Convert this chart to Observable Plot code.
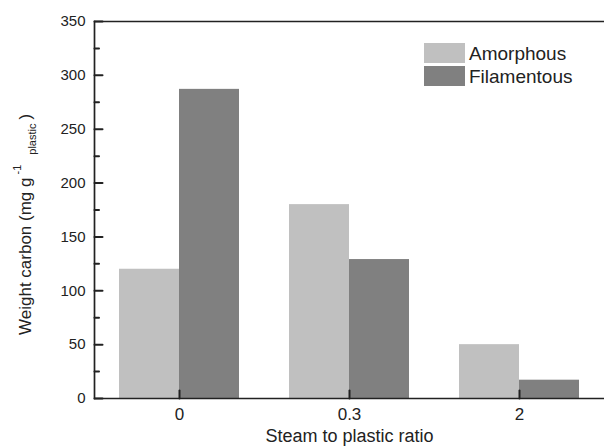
<!DOCTYPE html>
<html>
<head>
<meta charset="utf-8">
<script src="https://cdn.jsdelivr.net/npm/d3@7"></script>
<script src="https://cdn.jsdelivr.net/npm/@observablehq/plot@0.6"></script>
<style>
  html, body { margin: 0; padding: 0; background: #fff; overflow: hidden; }
</style>
</head>
<body>
<div id="chart"></div>
<script>
const ratios = ["0", "0.3", "2"];
const types = ["Amorphous", "Filamentous"];
const amorphous = [120, 180, 50];
const filamentous = [287, 129, 17];
const yMajorTicks = [0, 50, 100, 150, 200, 250, 300, 350];
const yMinorTicks = [25, 75, 125, 175, 225, 275, 325];
const colors = ["#c0c0c0", "#808080"];
const xTitle = "Steam to plastic ratio";

const data = ratios.flatMap((r, i) => [
  {ratio: r, type: types[0], value: amorphous[i]},
  {ratio: r, type: types[1], value: filamentous[i]}
]);

const font = "'Liberation Sans', Arial, sans-serif";
const ink = "#222";
const line = {draw(context, l) { context.moveTo(0, 0); context.lineTo(0, -l); }};

const plot = Plot.plot({
  width: 605,
  height: 448,
  marginLeft: 93,
  marginRight: 0,
  marginTop: 21,
  marginBottom: 50,
  style: {fontFamily: font},
  fx: {domain: ratios, padding: 0, label: null},
  x: {domain: types, paddingInner: 0, paddingOuter: 0.41, axis: null},
  y: {domain: [0, 350], axis: null},
  color: {domain: types, range: colors},
  marks: [
    Plot.barY(data, {fx: "ratio", x: "type", y: "value", fill: "type"}),
    Plot.ruleY([0, 350], {stroke: ink, strokeWidth: 1.7}),
    Plot.frame({anchor: "left", facetAnchor: "left", stroke: ink, strokeWidth: 1.7}),
    Plot.vector(yMajorTicks, {y: (d) => d, frameAnchor: "left", facetAnchor: "left", rotate: 90, length: 8, anchor: "start", shape: line, stroke: ink, strokeWidth: 2}),
    Plot.vector(yMinorTicks, {y: (d) => d, frameAnchor: "left", facetAnchor: "left", rotate: 90, length: 4.5, anchor: "start", shape: line, stroke: ink, strokeWidth: 2}),
    Plot.vector(ratios, {fx: (d) => d, frameAnchor: "bottom", rotate: 0, length: 8, anchor: "start", shape: line, stroke: ink, strokeWidth: 2}),
    Plot.axisY({ticks: yMajorTicks, tickSize: 0, tickPadding: 9, fontSize: 15, fill: ink, label: null}),
    Plot.axisFx({anchor: "bottom", tickSize: 0, tickPadding: 9, fontSize: 17, fill: ink, label: null}),
    Plot.axisFx({anchor: "bottom", tickSize: 0, tickFormat: () => "", label: xTitle, labelAnchor: "center", labelOffset: 43, fontSize: 18, fill: ink})
  ]
});

document.getElementById("chart").appendChild(plot);

// y-axis title with superscript / subscript
const svg = d3.select(plot);
const yt = svg.append("text")
  .attr("transform", "translate(31,335) rotate(-90)")
  .attr("text-anchor", "start")
  .attr("font-family", font)
  .attr("font-size", 17)
  .attr("fill", ink);
yt.append("tspan").text("Weight carbon (mg g");
yt.append("tspan").attr("font-size", 11).attr("dx", 3).attr("dy", -10).text("-1");
yt.append("tspan").attr("font-size", 11).attr("dx", 10).attr("dy", 15).text("plastic");
yt.append("tspan").attr("dx", 4).attr("dy", -5).text(")");

// legend
const color = plot.scale("color");
const lg = svg.append("g").attr("font-family", font).attr("font-size", 19).attr("fill", ink).attr("text-anchor", "start");
types.forEach((t, i) => {
  const y0 = 43 + i * 23;
  lg.append("rect").attr("x", 424).attr("y", y0).attr("width", 41).attr("height", 20)
    .attr("fill", color.apply(t));
  lg.append("text").attr("x", 469).attr("y", y0 + 10).attr("dy", "0.36em").text(t);
});
</script>
</body>
</html>
